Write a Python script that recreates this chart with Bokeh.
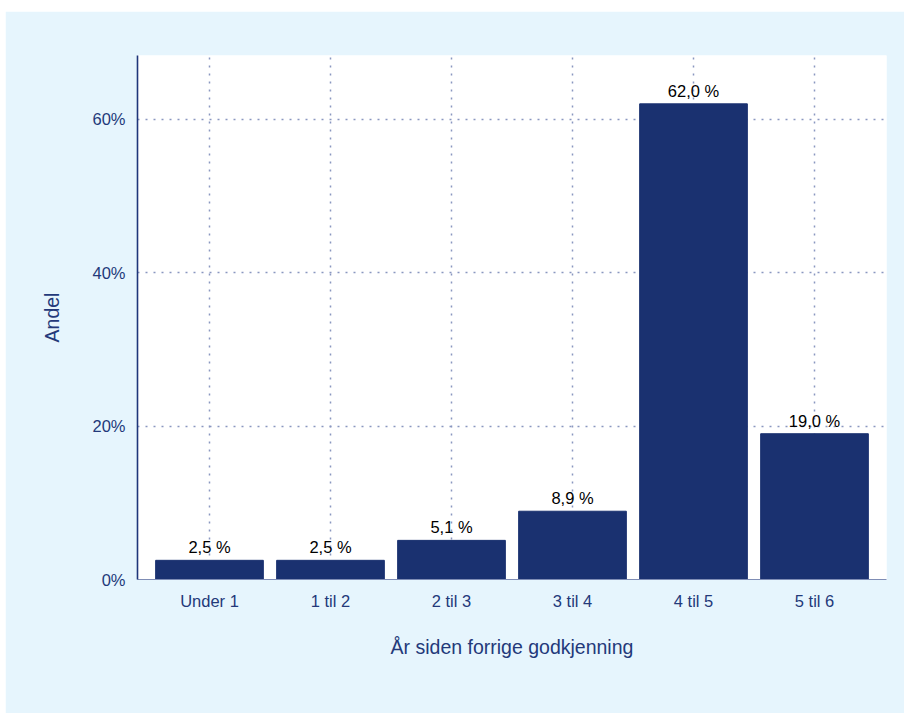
from bokeh.plotting import figure
from bokeh.models import (ColumnDataSource, FactorRange, Range1d, FixedTicker,
                          PrintfTickFormatter, LabelSet)
from bokeh.core.properties import value
from bokeh.embed import file_html
from bokeh.resources import INLINE

# Share of vehicles by years since previous approval
categories = ["Under 1", "1 til 2", "2 til 3", "3 til 4", "4 til 5", "5 til 6"]
shares = [2.5, 2.5, 5.1, 8.9, 62.0, 19.0]
y_ticks = [0, 20, 40, 60]

NAVY = "#1a3170"
TEXT = "#23397a"
PANEL = "#e6f5fd"
GRID = "#8a97c0"
FONT = "Liberation Sans"

labels = [f"{v:.1f}".replace(".", ",") + " %" for v in shares]
src = ColumnDataSource(dict(cat=categories, share=shares, label=labels))

p = figure(
    x_range=FactorRange(*categories, range_padding=0.095, range_padding_units="absolute"),
    y_range=Range1d(0, 68.3),
    frame_width=749, frame_height=524,
    min_border_left=132, min_border_right=18, min_border_top=44, min_border_bottom=134,
    output_backend="svg", toolbar_location=None,
    background_fill_color="white", border_fill_color=PANEL,
    outline_line_color=None,
    margin=(11, 0, 0, 5),
)

p.vbar(x="cat", top="share", width=0.89, source=src,
       fill_color=NAVY, line_color=NAVY)

p.add_layout(LabelSet(x="cat", y="share", text="label", source=src,
                      text_align="center", text_baseline="bottom", y_offset=4,
                      text_font=value(FONT), text_font_size="16.5px",
                      text_color="black"))

# axes
p.yaxis.ticker = FixedTicker(ticks=y_ticks)
p.yaxis.formatter = PrintfTickFormatter(format="%d%%")
p.yaxis.axis_label = "Andel"
p.xaxis.axis_label = "År siden forrige godkjenning"

for ax in (p.xaxis[0], p.yaxis[0]):
    ax.major_tick_line_color = None
    ax.minor_tick_line_color = None
    ax.major_tick_out = 0
    ax.major_tick_in = 0
    ax.major_label_text_font = FONT
    ax.major_label_text_font_size = "16.5px"
    ax.major_label_text_color = TEXT
    ax.axis_label_text_font = FONT
    ax.axis_label_text_font_size = "19.5px"
    ax.axis_label_text_font_style = "normal"
    ax.axis_label_text_color = TEXT

p.yaxis.axis_line_color = "#1f357a"
p.yaxis.axis_line_width = 1.6
p.yaxis.major_label_standoff = 12
p.yaxis.axis_label_standoff = 26

p.xaxis.axis_line_color = "#7f8db5"
p.xaxis.axis_line_width = 1.2
p.xaxis.major_label_standoff = 12
p.xaxis.axis_label_standoff = 23

# dotted grid
for g in (p.xgrid[0], p.ygrid[0]):
    g.grid_line_color = GRID
    g.grid_line_dash = "2 6"
    g.grid_line_width = 1.5
p.ygrid.ticker = FixedTicker(ticks=[20, 40, 60])

with open("out.html", "w") as f:
    f.write(file_html(p, INLINE))
